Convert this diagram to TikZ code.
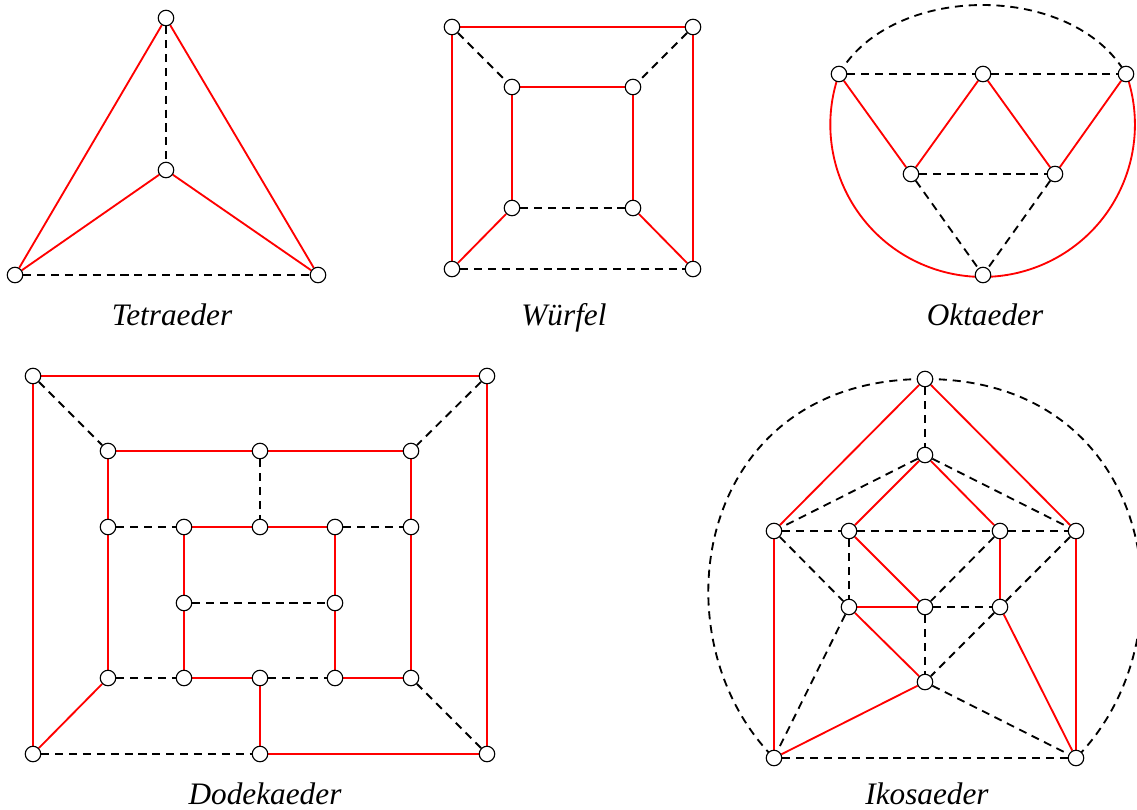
\documentclass[tikz,border=0pt]{standalone}
\usepackage{fontspec}
\setmainfont{Liberation Serif}
\usetikzlibrary{backgrounds}
\begin{document}
\begin{tikzpicture}[x=0.02cm,y=-0.02cm,
  v/.style={circle,draw=black,fill=white,line width=0.65pt,inner sep=0pt,minimum size=0.31cm},
  re/.style={draw=red,line width=1.05pt},
  de/.style={draw=black,line width=1.05pt,dash pattern=on 4.6pt off 3.3pt},
  lab/.style={anchor=base,font=\fontsize{17.8}{20}\selectfont\itshape}]
\useasboundingbox (0,0) rectangle (1137,809);

% ---------- Tetraeder ----------
\node[v] (t1) at (166,18) {};
\node[v] (t2) at (166,170) {};
\node[v] (t3) at (15,275) {};
\node[v] (t4) at (318,275) {};
\node[lab] (tl) at (172,325) {Tetraeder};
\begin{scope}[on background layer]
\draw[de] (t1) -- (t2);
\draw[re] (t1) -- (t3);
\draw[re] (t1) -- (t4);
\draw[re] (t2) -- (t3);
\draw[re] (t2) -- (t4);
\draw[de] (t3) -- (t4);
\end{scope}

% ---------- Wuerfel ----------
\node[v] (w1) at (452,27) {};
\node[v] (w2) at (693,27) {};
\node[v] (w3) at (452,269) {};
\node[v] (w4) at (693,269) {};
\node[v] (w5) at (512,87) {};
\node[v] (w6) at (633,87) {};
\node[v] (w7) at (512,208) {};
\node[v] (w8) at (633,208) {};
\node[lab] (wl) at (564,325) {Würfel};
\begin{scope}[on background layer]
\draw[re] (w1) -- (w2);
\draw[re] (w1) -- (w3);
\draw[re] (w2) -- (w4);
\draw[de] (w3) -- (w4);
\draw[de] (w1) -- (w5);
\draw[de] (w2) -- (w6);
\draw[re] (w3) -- (w7);
\draw[re] (w4) -- (w8);
\draw[re] (w5) -- (w6);
\draw[re] (w5) -- (w7);
\draw[re] (w6) -- (w8);
\draw[de] (w7) -- (w8);
\end{scope}

% ---------- Oktaeder ----------
\node[v] (o1) at (839,74) {};
\node[v] (o2) at (983,74) {};
\node[v] (o3) at (1126,74) {};
\node[v] (o4) at (911,174) {};
\node[v] (o5) at (1055,174) {};
\node[v] (o6) at (983,275) {};
\node[lab] (ol) at (985,325) {Oktaeder};
\begin{scope}[on background layer]
\draw[de] (o1) -- (o2);
\draw[de] (o2) -- (o3);
\draw[re] (o1) -- (o4);
\draw[re] (o4) -- (o2);
\draw[re] (o2) -- (o5);
\draw[re] (o5) -- (o3);
\draw[de] (o4) -- (o5);
\draw[de] (o4) -- (o6);
\draw[de] (o5) -- (o6);
\draw[de] (o1.center) .. controls (892,-18) and (1073,-18) .. (o3.center);
\draw[re] (o1.center) arc[start angle=199.4,end angle=-19.4,radius=152.3];
\end{scope}

% ---------- Dodekaeder ----------
\node[v] (d1) at (33,376) {};
\node[v] (d2) at (487,376) {};
\node[v] (d3) at (33,754) {};
\node[v] (d4) at (260,754) {};
\node[v] (d5) at (487,754) {};
\node[v] (d6) at (108,451) {};
\node[v] (d7) at (260,451) {};
\node[v] (d8) at (411,451) {};
\node[v] (d9) at (108,527) {};
\node[v] (d10) at (184,527) {};
\node[v] (d11) at (260,527) {};
\node[v] (d12) at (335,527) {};
\node[v] (d13) at (411,527) {};
\node[v] (d14) at (184,603) {};
\node[v] (d15) at (335,603) {};
\node[v] (d16) at (108,678) {};
\node[v] (d17) at (184,678) {};
\node[v] (d18) at (260,678) {};
\node[v] (d19) at (335,678) {};
\node[v] (d20) at (411,678) {};
\node[lab] (dl) at (265,804) {Dodekaeder};
\begin{scope}[on background layer]
\draw[re] (d1) -- (d2);
\draw[re] (d1) -- (d3);
\draw[re] (d2) -- (d5);
\draw[de] (d3) -- (d4);
\draw[re] (d4) -- (d5);
\draw[de] (d1) -- (d6);
\draw[de] (d2) -- (d8);
\draw[re] (d3) -- (d16);
\draw[de] (d5) -- (d20);
\draw[re] (d4) -- (d18);
\draw[re] (d6) -- (d7);
\draw[re] (d7) -- (d8);
\draw[de] (d7) -- (d11);
\draw[re] (d6) -- (d9);
\draw[re] (d9) -- (d16);
\draw[re] (d8) -- (d13);
\draw[re] (d13) -- (d20);
\draw[de] (d9) -- (d10);
\draw[re] (d10) -- (d11);
\draw[re] (d11) -- (d12);
\draw[de] (d12) -- (d13);
\draw[re] (d10) -- (d14);
\draw[re] (d14) -- (d17);
\draw[re] (d12) -- (d15);
\draw[re] (d15) -- (d19);
\draw[de] (d14) -- (d15);
\draw[de] (d16) -- (d17);
\draw[re] (d17) -- (d18);
\draw[de] (d18) -- (d19);
\draw[re] (d19) -- (d20);
\end{scope}

% ---------- Ikosaeder ----------
\node[v] (i1) at (925,379) {};
\node[v] (i2) at (925,455) {};
\node[v] (i3) at (774,531) {};
\node[v] (i4) at (849,531) {};
\node[v] (i5) at (1000,531) {};
\node[v] (i6) at (1076,531) {};
\node[v] (i7) at (849,607) {};
\node[v] (i8) at (925,607) {};
\node[v] (i9) at (1000,607) {};
\node[v] (i10) at (925,682) {};
\node[v] (i11) at (774,758) {};
\node[v] (i12) at (1076,758) {};
\node[lab] (il) at (927,804) {Ikosaeder};
\begin{scope}[on background layer]
\draw[re] (i1) -- (i3);
\draw[re] (i1) -- (i6);
\draw[re] (i2) -- (i4);
\draw[re] (i2) -- (i5);
\draw[re] (i4) -- (i8);
\draw[re] (i7) -- (i8);
\draw[re] (i5) -- (i9);
\draw[re] (i7) -- (i10);
\draw[re] (i10) -- (i11);
\draw[re] (i9) -- (i12);
\draw[re] (i3) -- (i11);
\draw[re] (i6) -- (i12);
\draw[de] (i1) -- (i2);
\draw[de] (i2) -- (i3);
\draw[de] (i2) -- (i6);
\draw[de] (i3) -- (i4);
\draw[de] (i4) -- (i5);
\draw[de] (i5) -- (i6);
\draw[de] (i3) -- (i7);
\draw[de] (i4) -- (i7);
\draw[de] (i5) -- (i8);
\draw[de] (i6) -- (i9);
\draw[de] (i8) -- (i9);
\draw[de] (i8) -- (i10);
\draw[de] (i7) -- (i11);
\draw[de] (i9) -- (i10);
\draw[de] (i10) -- (i12);
\draw[de] (i11) -- (i12);
\draw[de] (i1.center) .. controls (695,379) and (654,637) .. (i11.center);
\draw[de] (i1.center) .. controls (1155,379) and (1196,637) .. (i12.center);
\end{scope}
\end{tikzpicture}
\end{document}
